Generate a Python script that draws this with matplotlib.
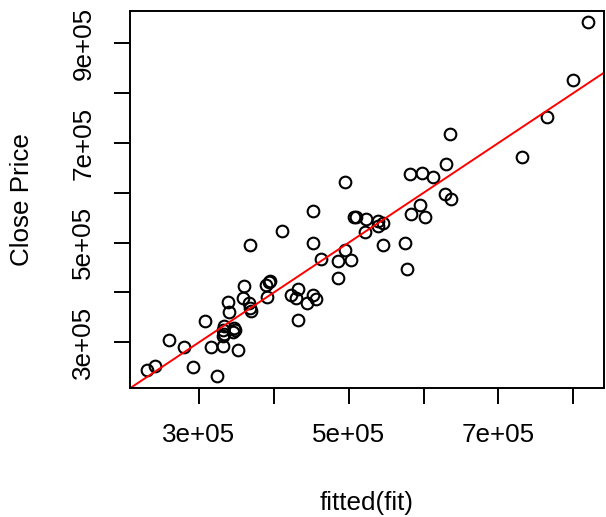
import matplotlib
matplotlib.use("Agg")
import matplotlib.pyplot as plt

plt.rcParams['font.family'] = ['Liberation Sans', 'DejaVu Sans']

# fitted values of the model (x) and observed close prices (y)
fitted = [495448, 819813, 800268, 765462, 636011, 731459, 582463, 598125, 612851,
          630254, 628380, 636948, 451673, 507095, 510174, 522624, 521285, 410710,
          368273, 452477, 462383, 495448, 485676, 503481, 485141, 393306, 395448,
          389692, 360643, 339224, 358501, 391432, 366934, 368273, 369210, 340161,
          432530, 423159, 429451, 443641, 451673, 456225, 431593, 307631, 333869,
          331727, 333467, 331727, 346854, 345917, 348594, 259839, 279518, 316064,
          331727, 352209, 230790, 240696, 291968, 324498, 595850, 583400, 602544,
          538688, 545917, 538688, 545917, 575770, 578046]
close_price = [622626, 941818, 826667, 751111, 717576, 671111, 637374, 639394, 630707,
               656970, 598384, 588283, 563232, 551111, 551111, 547879, 520808, 524242,
               495960, 500000, 466263, 484444, 463030, 464242, 429293, 421818, 423838,
               415758, 413737, 380808, 389495, 390303, 378182, 368081, 362020, 361212,
               407677, 394276, 389495, 378182, 394276, 387475, 343838, 342424, 332323,
               325657, 317576, 312121, 328283, 320808, 324242, 304646, 290505, 290505,
               293333, 285253, 243434, 252121, 249495, 232727, 575354, 557980, 550505,
               543030, 539798, 532929, 495960, 500000, 447475]

# abline(lm(close ~ fitted(fit)))
intercept = 0.0
slope = 1.0

x_ticks = [300000, 400000, 500000, 600000, 700000, 800000]
y_ticks = [300000, 400000, 500000, 600000, 700000, 800000, 900000]


def sci_label(v):
    # R style: 3e+05, blank for the ticks that R skips
    if v in (300000, 500000, 700000, 900000):
        return "%de+05" % (v // 100000)
    return ""


fig = plt.figure(figsize=(6.06, 5.17), dpi=100)
ax = fig.add_axes([130 / 606, 1 - 388 / 517, 474 / 606, 377 / 517])

ax.plot(fitted, close_price, 'o', mfc='none', mec='black', ms=8.4, mew=1.5)
ax.axline((0, intercept), slope=slope, color='red', lw=1.4)

ax.set_xlim(207800, 841100)
ax.set_ylim(208300, 964800)

ax.set_xticks(x_ticks)
ax.set_xticklabels([sci_label(v) for v in x_ticks])
ax.set_yticks(y_ticks)
ax.set_yticklabels([sci_label(v) for v in y_ticks], rotation=90, va='center')

ax.tick_params(length=11.5, width=1.4, pad=13.5, labelsize=18.7, color='black')
for s in ax.spines.values():
    s.set_linewidth(1.4)

ax.set_xlabel('fitted(fit)', fontsize=18.7)
ax.set_ylabel('Close Price', fontsize=18.7)
ax.xaxis.label.set_va('center')
ax.yaxis.label.set_va('center')
ax.xaxis.set_label_coords(0.5, (388 - 503) / 377)
ax.yaxis.set_label_coords((22 - 130) / 474, 0.5)

fig.savefig('out.png', dpi=100)
